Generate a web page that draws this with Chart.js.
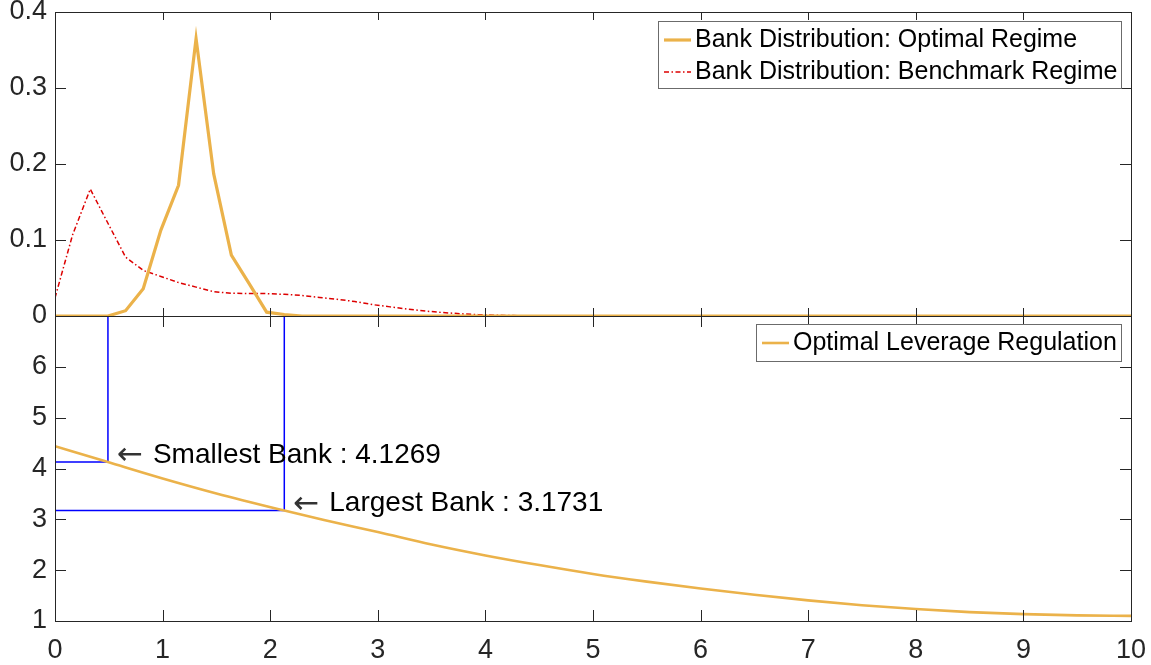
<!DOCTYPE html>
<html>
<head>
<meta charset="utf-8">
<script src="https://cdn.jsdelivr.net/npm/chart.js@4.4.1/dist/chart.umd.min.js"></script>
<style>
    html, body { margin: 0; padding: 0; background: #fff; }
    #wrap { position: relative; width: 1151px; height: 665px; }
    canvas { position: absolute; left: 0; top: 0; }
</style>
</head>
<body>
<div id="wrap">
    <canvas id="topChart" width="1151" height="665"></canvas>
    <canvas id="bottomChart" width="1151" height="665"></canvas>
</div>
<script>
// Bank size grid shared by both distributions
const gridX = [0, 0.164, 0.328, 0.492, 0.656, 0.82, 0.984, 1.148, 1.311, 1.475, 1.639, 1.803, 1.967, 2.131,
    2.295, 2.459, 2.623, 2.787, 2.951, 3.115, 3.279, 3.443, 3.607, 3.77, 3.934, 4.098, 4.262, 4.426, 10];
const optimalDist = [0, 0, 0, 0, 0.007, 0.036, 0.113, 0.172, 0.365, 0.187, 0.080, 0.043, 0.005, 0.002,
    0, 0, 0, 0, 0, 0, 0, 0, 0, 0, 0, 0, 0, 0, 0];
const benchmarkDist = [0.024, 0.107, 0.167, 0.122, 0.0775, 0.060, 0.052, 0.044, 0.038, 0.032, 0.030, 0.0296, 0.0295, 0.0285,
    0.027, 0.0245, 0.022, 0.019, 0.015, 0.012, 0.009, 0.0065, 0.0045, 0.003, 0.0018, 0.001, 0.0005, 0.0002, 0];

// Optimal leverage regulation curve
const leverX = [0, 0.492, 1, 1.5, 2.131, 2.5, 3, 3.5, 4, 4.5, 5, 5.5, 6, 6.5, 7, 7.5, 8, 8.5, 9, 9.5, 10];
const leverY = [4.44, 4.1269, 3.805, 3.51, 3.1731, 2.985, 2.75, 2.505, 2.29, 2.10, 1.925, 1.775, 1.64, 1.515, 1.405, 1.31, 1.235, 1.175, 1.135, 1.11, 1.10];

// Smallest / largest bank markers
const bankX = [0.492, 2.131];
const bankY = [4.1269, 3.1731];
const bankNames = ["Smallest Bank", "Largest Bank"];

// Ticks
const xTicks = [0, 1, 2, 3, 4, 5, 6, 7, 8, 9, 10];
const yTopTicks = [0, 0.1, 0.2, 0.3, 0.4];
const yTopLabels = ["0", "0.1", "0.2", "0.3", "0.4"];
const yBotTicks = [1, 2, 3, 4, 5, 6];
const yBotLabels = ["1", "2", "3", "4", "5", "6"];

const FONT = "'Liberation Sans', Arial, Helvetica, sans-serif";
const AXIS = "#262626";
const YELLOW = "#EBB24A";
const RED = "#DD0000";
const BLUE = "#0000FF";

function toPoints(xs, ys) {
    return xs.map((x, i) => ({ x: x, y: ys[i] }));
}

// no extra room for the edge labels, the plot area is fixed by layout padding
function noEdgePadding(s) {
    s.paddingTop = 0;
    s.paddingBottom = 0;
    s.paddingLeft = 0;
    s.paddingRight = 0;
}

// Box around the axes with MATLAB style inward ticks
const frameTicks = {
    id: "frameTicks",
    afterDatasetsDraw(chart, args, opts) {
        const { ctx, chartArea: a, scales } = chart;
        ctx.save();
        ctx.strokeStyle = AXIS;
        ctx.lineWidth = 1;
        ctx.strokeRect(Math.round(a.left) + 0.5, Math.round(a.top) + 0.5,
            Math.round(a.right - a.left), Math.round(a.bottom - a.top));
        ctx.beginPath();
        xTicks.forEach(v => {
            const px = Math.round(scales.x.getPixelForValue(v)) + 0.5;
            ctx.moveTo(px, a.top); ctx.lineTo(px, a.top + opts.len);
            ctx.moveTo(px, a.bottom); ctx.lineTo(px, a.bottom - opts.len);
        });
        opts.yTicks.forEach(v => {
            const py = Math.round(scales.y.getPixelForValue(v)) + 0.5;
            ctx.moveTo(a.left, py); ctx.lineTo(a.left + 11, py);
            ctx.moveTo(a.right, py); ctx.lineTo(a.right - 11, py);
        });
        ctx.stroke();
        ctx.restore();
    }
};

// Legend drawn inside the plot area, top right corner
const insideLegend = {
    id: "insideLegend",
    afterDraw(chart, args, opts) {
        const { ctx, chartArea: a } = chart;
        const items = chart.data.datasets.filter(d => d.inLegend);
        ctx.save();
        ctx.font = opts.fontSize + "px " + FONT;
        let textW = 0;
        items.forEach(d => { textW = Math.max(textW, ctx.measureText(d.label).width); });
        const right = Math.round(a.right - 10);
        const left = Math.round(right - textW - 41);
        const top = Math.round(a.top + opts.top);
        const h = opts.rowH * items.length + opts.extra;
        ctx.fillStyle = "#fff";
        ctx.fillRect(left, top, right - left, h);
        ctx.strokeStyle = "#6b6b6b";
        ctx.lineWidth = 1;
        ctx.strokeRect(left + 0.5, top + 0.5, right - left, h);
        items.forEach((d, i) => {
            const cy = top + opts.first + i * opts.rowH;
            ctx.beginPath();
            ctx.strokeStyle = d.borderColor;
            ctx.lineWidth = d.borderWidth;
            ctx.setLineDash(d.borderDash || []);
            ctx.moveTo(left + 6, cy);
            ctx.lineTo(left + 33, cy);
            ctx.stroke();
            ctx.setLineDash([]);
            ctx.fillStyle = "#000";
            ctx.textBaseline = "middle";
            ctx.fillText(d.label, left + 37, cy);
        });
        ctx.restore();
    }
};

// Text labels next to the bank markers
const bankNotes = {
    id: "bankNotes",
    afterDatasetsDraw(chart) {
        const { ctx, scales } = chart;
        ctx.save();
        ctx.textBaseline = "middle";
        bankX.forEach((x, i) => {
            const px = scales.x.getPixelForValue(x);
            const py = scales.y.getPixelForValue(bankY[i]) - 7;
            ctx.fillStyle = "#333";
            ctx.font = "31px 'DejaVu Sans', sans-serif";
            ctx.fillText("\u2190", px + 9, py + 1);
            ctx.fillStyle = "#000";
            ctx.font = "28px " + FONT;
            ctx.fillText(bankNames[i] + " : " + bankY[i].toFixed(4), px + 45, py);
        });
        ctx.restore();
    }
};

const tickFont = { family: FONT, size: 27 };

// Top panel: bank distributions
new Chart(document.getElementById("topChart"), {
    type: "line",
    data: {
        datasets: [{
            label: "Bank Distribution: Optimal Regime",
            data: toPoints(gridX, optimalDist),
            borderColor: YELLOW,
            borderWidth: 3.2,
            inLegend: true
        }, {
            label: "Bank Distribution: Benchmark Regime",
            data: toPoints(gridX, benchmarkDist),
            borderColor: RED,
            borderWidth: 1.5,
            borderDash: [5, 2.5, 1.5, 2.5],
            inLegend: true
        }]
    },
    options: {
        responsive: false,
        animation: false,
        devicePixelRatio: 1,
        layout: { padding: { top: 12, right: 20, bottom: 349, left: 0 } },
        elements: { point: { radius: 0 }, line: { tension: 0 } },
        scales: {
            x: { type: "linear", min: 0, max: 10, display: false },
            y: {
                min: 0, max: 0.4,
                afterBuildTicks: s => { s.ticks = yTopTicks.map(v => ({ value: v })); },
                afterFit: s => { s.width = 55; noEdgePadding(s); },
                ticks: {
                    callback: (v, i) => yTopLabels[i],
                    font: tickFont, color: AXIS, padding: 8
                },
                grid: { display: false, drawTicks: false },
                border: { display: false }
            }
        },
        plugins: {
            legend: { display: false },
            tooltip: { enabled: false },
            frameTicks: { len: 8, yTicks: yTopTicks },
            insideLegend: { fontSize: 25, top: 9, rowH: 32, first: 19, extra: 3 }
        }
    },
    plugins: [frameTicks, insideLegend]
});

// Bottom panel: optimal leverage regulation
new Chart(document.getElementById("bottomChart"), {
    type: "line",
    data: {
        datasets: [{
            label: "Optimal Leverage Regulation",
            data: toPoints(leverX, leverY),
            borderColor: YELLOW,
            borderWidth: 2.6,
            cubicInterpolationMode: "monotone",
            inLegend: true
        }, {
            label: "",
            data: [{ x: 0, y: bankY[0] }, { x: bankX[0], y: bankY[0] }, { x: bankX[0], y: 7 }],
            borderColor: BLUE,
            borderWidth: 1.5
        }, {
            label: "",
            data: [{ x: 0, y: bankY[1] }, { x: bankX[1], y: bankY[1] }, { x: bankX[1], y: 7 }],
            borderColor: BLUE,
            borderWidth: 1.5
        }]
    },
    options: {
        responsive: false,
        animation: false,
        devicePixelRatio: 1,
        layout: { padding: { top: 316, right: 20, bottom: 0, left: 0 } },
        elements: { point: { radius: 0 }, line: { tension: 0 } },
        scales: {
            x: {
                type: "linear", min: 0, max: 10,
                afterBuildTicks: s => { s.ticks = xTicks.map(v => ({ value: v })); },
                afterFit: s => { s.height = 44; noEdgePadding(s); },
                ticks: { font: tickFont, color: AXIS, padding: 13, maxRotation: 0 },
                grid: { display: false, drawTicks: false },
                border: { display: false }
            },
            y: {
                min: 1, max: 7,
                afterBuildTicks: s => { s.ticks = yBotTicks.map(v => ({ value: v })); },
                afterFit: s => { s.width = 55; noEdgePadding(s); },
                ticks: {
                    callback: (v, i) => yBotLabels[i],
                    font: tickFont, color: AXIS, padding: 8
                },
                grid: { display: false, drawTicks: false },
                border: { display: false }
            }
        },
        plugins: {
            legend: { display: false },
            tooltip: { enabled: false },
            frameTicks: { len: 11, yTicks: yBotTicks },
            insideLegend: { fontSize: 25, top: 8, rowH: 32, first: 19, extra: 5 }
        }
    },
    plugins: [frameTicks, bankNotes, insideLegend]
});
</script>
</body>
</html>
